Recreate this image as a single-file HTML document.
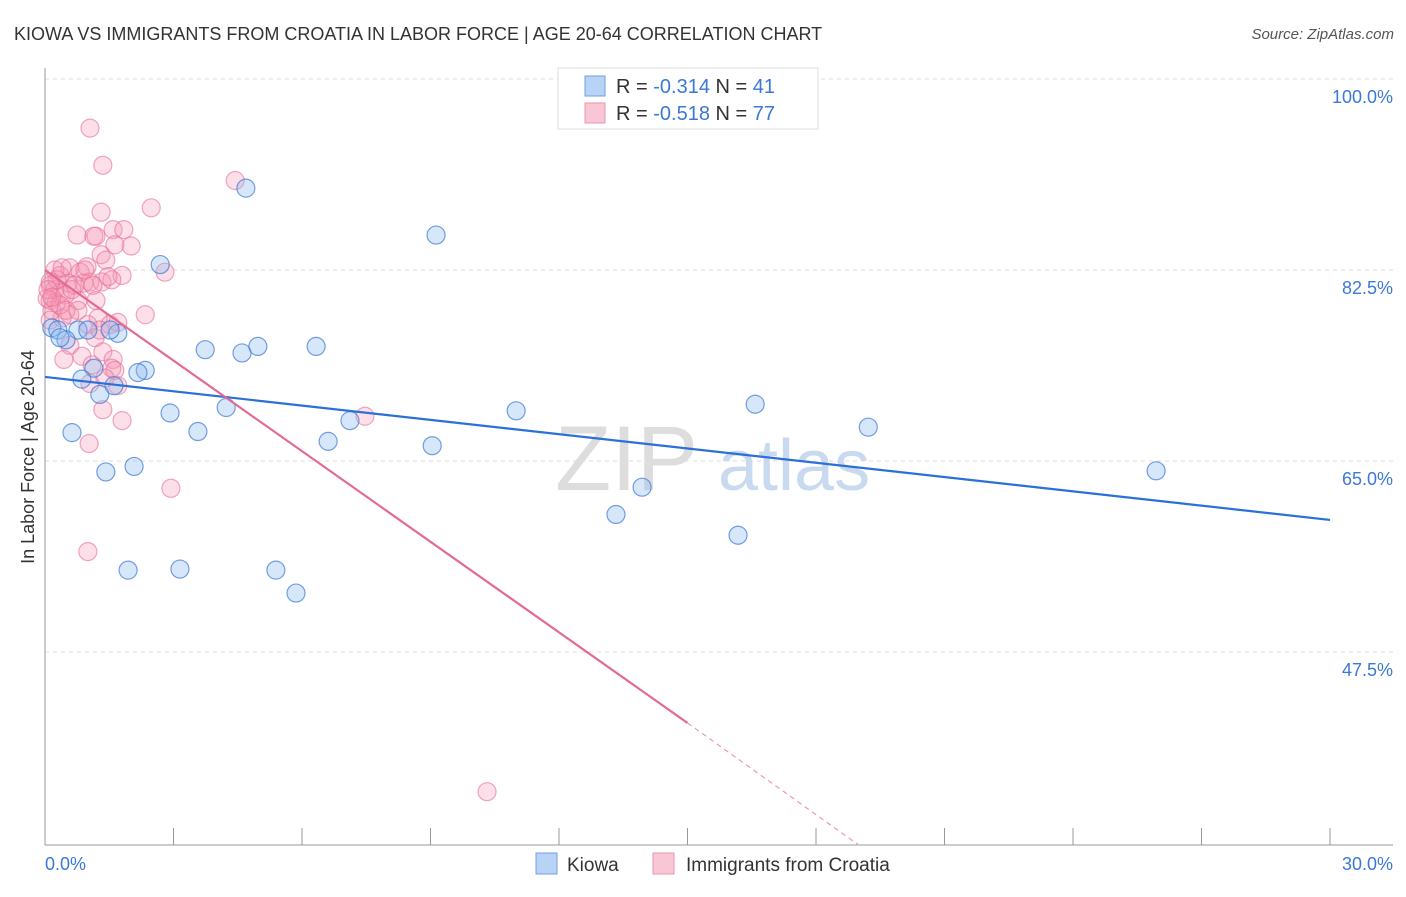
<!DOCTYPE html>
<html><head><meta charset="utf-8"><style>
body{margin:0;background:#fff;font-family:"Liberation Sans",sans-serif}
svg text{font-family:"Liberation Sans",sans-serif}
</style></head><body>
<svg id="c" width="1406" height="892" viewBox="0 0 1406 892">
<text x="14" y="40" font-size="18" fill="#333">KIOWA VS IMMIGRANTS FROM CROATIA IN LABOR FORCE | AGE 20-64 CORRELATION CHART</text>
<text x="1394" y="39" font-size="15" fill="#555" text-anchor="end" font-style="italic">Source: ZipAtlas.com</text>
<g id="grid"></g>
<g><text x="555" y="490" font-size="92" fill="#ddd" font-family="Liberation Serif">ZIP</text><text x="718" y="490" font-size="72" fill="#c9daf0">atlas</text></g>
<line x1="45" y1="68" x2="45" y2="845" stroke="#999"/>
<line x1="45" y1="845" x2="1393" y2="845" stroke="#999"/>
<g id="ticks"></g>
<g id="pts"></g>
<g id="trend"></g>
<text x="34" y="457" font-size="18" fill="#333" text-anchor="middle" transform="rotate(-90 34 457)">In Labor Force | Age 20-64</text>
<text x="45" y="870" font-size="18" fill="#3b78d8">0.0%</text>
<text x="1393" y="870" font-size="18" fill="#3b78d8" text-anchor="end">30.0%</text>
<g>
<rect x="558" y="68" width="260" height="61" fill="#fff" stroke="#ddd"/>
<rect x="585" y="76" width="20" height="20" fill="#b8d3f5" stroke="#6f9fe0"/>
<rect x="585" y="103" width="20" height="20" fill="#f9c6d6" stroke="#ec92b0"/>
<text x="616" y="93" font-size="20" fill="#333">R = <tspan fill="#3b78d8">-0.314</tspan>   N = <tspan fill="#3b78d8">41</tspan></text>
<text x="616" y="120" font-size="20" fill="#333">R = <tspan fill="#3b78d8">-0.518</tspan>   N = <tspan fill="#3b78d8">77</tspan></text>
</g>
<g>
<rect x="536" y="853" width="21" height="21" fill="#b8d3f5" stroke="#6f9fe0"/>
<text x="567" y="871" font-size="19" fill="#333">Kiowa</text>
<rect x="653" y="853" width="21" height="21" fill="#f9c6d6" stroke="#ec92b0"/>
<text x="686" y="871" font-size="19" fill="#333">Immigrants from Croatia</text>
</g>
</svg>
<script>
const yTicks=[100,82.5,65,47.5];
const yTickLabels=["100.0%","82.5%","65.0%","47.5%"];
const xTicks=[0,3,6,9,12,15,18,21,24,27,30];
const kiowaX=[4.69,9.13,2.69,0.16,0.30,0.77,1.70,0.49,3.74,4.60,4.97,6.33,2.34,2.17,1.14,0.86,1.61,1.28,2.92,4.23,11.0,16.58,19.22,3.57,0.63,6.61,7.12,9.04,1.42,2.08,13.94,25.94,13.33,16.18,1.94,3.15,5.39,5.86,1.52,0.35,1.00];
const kiowaY=[90.0,85.7,83.0,77.2,77.0,77.0,76.7,76.1,75.2,74.9,75.5,75.5,73.3,73.1,73.5,72.5,71.9,71.1,69.4,69.9,69.6,70.2,68.1,67.7,67.6,66.8,68.7,66.4,64.0,64.5,62.6,64.1,60.1,58.2,55.0,55.1,55.0,52.9,77.0,76.3,77.0];
const croX=[1.05,1.35,4.44,2.48,1.31,0.75,1.19,1.59,1.84,1.14,2.01,1.63,1.31,1.42,0.98,2.80,1.80,0.58,0.23,0.35,0.82,0.54,0.91,1.05,1.33,1.56,0.12,0.23,0.35,0.12,0.26,0.70,0.77,2.34,1.24,1.52,1.00,0.40,0.58,0.16,0.12,1.17,0.58,1.35,0.86,0.44,1.59,1.56,1.63,1.10,1.70,1.05,1.35,1.80,1.03,2.94,1.00,7.47,10.32,1.28,0.28,0.47,0.05,0.12,0.63,0.93,1.12,0.35,0.49,1.70,1.40,0.07,0.16,0.77,0.40,1.19,1.47];
const croY=[95.5,92.1,90.7,88.2,87.8,85.7,85.6,86.2,86.2,85.6,84.7,84.8,83.9,83.4,82.8,82.3,82.0,82.7,82.5,82.0,82.3,81.3,81.3,81.4,81.4,81.6,81.1,80.7,80.4,79.7,79.5,81.1,79.7,78.4,78.1,77.5,77.5,78.1,78.4,78.8,77.9,76.3,75.6,75.0,74.6,74.3,74.3,73.5,73.3,73.8,71.9,72.1,69.7,68.7,66.6,62.5,56.7,69.1,34.7,77.0,81.6,80.2,79.9,81.4,80.7,82.5,81.1,79.3,78.8,77.7,72.6,80.7,80.0,78.8,82.7,79.7,81.9];
const kiowaTrend=[72.7,59.6];
const croTrend=[82.5,41.0];
const croDashEnd=[19.0,29.8];
const NS='http://www.w3.org/2000/svg';
const X=v=>45+v/30*1285;
const Y=v=>79+(100-v)*191/17.5;
function mk(t,a,p){const e=document.createElementNS(NS,t);for(const k in a)e.setAttribute(k,a[k]);p.appendChild(e);return e;}
const grid=document.getElementById('grid');
yTicks.forEach((t,i)=>{
 const l=mk('line',{x1:45,x2:1393,y1:Y(t),y2:Y(t),stroke:'#ddd','stroke-dasharray':'4,4'},grid);
 
 
 const tx=mk('text',{x:1393,y:Y(t)+24,'font-size':18,fill:'#3b78d8','text-anchor':'end'},grid);
 tx.textContent=yTickLabels[i];
 
 
});
const ticks=document.getElementById('ticks');
xTicks.forEach(t=>{
 const l=mk('line',{x1:X(t),x2:X(t),y1:828,y2:845,stroke:'#999'},ticks);
 
 
});
const pts=document.getElementById('pts');
croX.forEach((x,i)=>{
 const c=mk('circle',{cx:X(x),cy:Y(croY[i]),r:9,fill:'rgba(244,150,180,0.3)',stroke:'rgba(232,110,150,0.6)','stroke-width':1.2},pts);
 
 
});
kiowaX.forEach((x,i)=>{
 const c=mk('circle',{cx:X(x),cy:Y(kiowaY[i]),r:9,fill:'rgba(140,185,240,0.35)',stroke:'rgba(60,120,210,0.7)','stroke-width':1.2},pts);
 
 
});
const tr=document.getElementById('trend');
let a=mk('line',{x1:X(0),y1:Y(kiowaTrend[0]),x2:X(30),y2:Y(kiowaTrend[1]),stroke:'#2a70d6','stroke-width':2.2},tr);


let b=mk('line',{x1:X(0),y1:Y(croTrend[0]),x2:X(15),y2:Y(croTrend[1]),stroke:'#e46a96','stroke-width':2.2},tr);


let d=mk('line',{x1:X(15),y1:Y(croTrend[1]),x2:X(croDashEnd[0]),y2:Y(croDashEnd[1]),stroke:'#e99ab6','stroke-width':1.2,'stroke-dasharray':'5,4'},tr);


</script>
</body></html>
